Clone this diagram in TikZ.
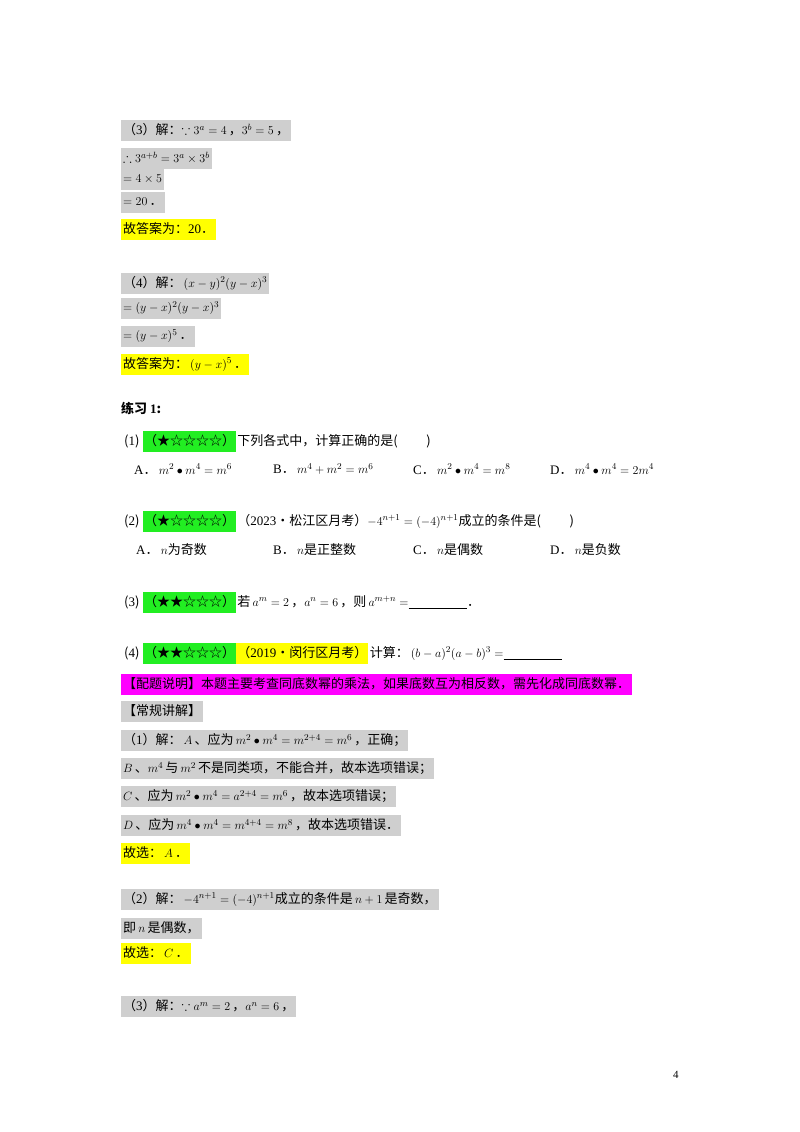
\documentclass[tikz,border=0pt]{standalone}
\usepackage{fontspec}
\usepackage{amsmath,amssymb}
\setmainfont{Noto Sans CJK SC}
\newfontfamily\ser{Liberation Serif}
\usetikzlibrary{positioning}
\definecolor{hlgray}{HTML}{CFCFCF}
\definecolor{hlgreen}{HTML}{22EE22}
\definecolor{hlyellow}{HTML}{FFFF00}
\definecolor{hlmag}{HTML}{FF00FF}
\newcommand{\sm}[1]{{\ser #1}}
\begin{document}
\begin{tikzpicture}[x=1pt,y=-1pt,font=\fontsize{13}{15}\selectfont,
    box/.style={anchor=west,fill=#1,inner xsep=2pt,inner ysep=0pt,minimum height=21pt},
    txt/.style={anchor=west,inner sep=1pt},
    sq/.style={right=0pt of #1,inner xsep=1pt,inner ysep=0pt,minimum height=21pt}]
\useasboundingbox (0,0) rectangle (800,1132);
% worked answers (3) and (4)
\node[box=hlgray] (s3a) at (121,130) {（\sm{3}）解：$\because 3^a=4$\,，$3^b=5$\,，};
\node[box=hlgray] (s3b) at (121,158) {$\therefore 3^{a+b}=3^a\times 3^b$};
\node[box=hlgray] (s3c) at (121,179) {$=4\times 5$};
\node[box=hlgray] (s3d) at (121,202) {$=20$\,．};
\node[box=hlyellow] (s3e) at (121,229) {故答案为：\sm{20}．};
\node[box=hlgray] (s4a) at (121,283) {（\sm{4}）解：$\,(x-y)^2(y-x)^3$};
\node[box=hlgray] (s4b) at (121,308) {$=(y-x)^2(y-x)^3$};
\node[box=hlgray] (s4c) at (121,336) {$=(y-x)^5$\,．};
\node[box=hlyellow] (s4d) at (121,364) {故答案为：$\,(y-x)^5$\,．};
% exercise 1
\node[txt,font=\fontsize{13}{15}\selectfont\bfseries] (ex) at (120,408) {练习 \sm{\textbf{1}}:};
\node[txt] (q1) at (123,441) {(\sm{1})\,};
\node[box=hlgreen,sq=q1] (q1s) {（★☆☆☆☆）};
\node[txt,right=0pt of q1s] (q1t) {下列各式中，计算正确的是(\hspace{2.2em})};
\node[txt] (o1a) at (133,469) {\sm{A}．\,$m^2\bullet m^4=m^6$};
\node[txt] (o1b) at (272,469) {\sm{B}．\,$m^4+m^2=m^6$};
\node[txt] (o1c) at (412,469) {\sm{C}．\,$m^2\bullet m^4=m^8$};
\node[txt] (o1d) at (549,469) {\sm{D}．\,$m^4\bullet m^4=2m^4$};
\node[txt] (q2) at (123,521) {(\sm{2})\,};
\node[box=hlgreen,sq=q2] (q2s) {（★☆☆☆☆）};
\node[txt,right=0pt of q2s] (q2t) {（\sm{2023}•松江区月考）$-4^{n+1}=(-4)^{n+1}$成立的条件是(\hspace{2.2em})};
\node[txt] (o2a) at (135,550) {\sm{A}．\,$n$为奇数};
\node[txt] (o2b) at (272,550) {\sm{B}．\,$n$是正整数};
\node[txt] (o2c) at (412,550) {\sm{C}．\,$n$是偶数};
\node[txt] (o2d) at (549,550) {\sm{D}．\,$n$是负数};
\node[txt] (q3) at (123,602) {(\sm{3})\,};
\node[box=hlgreen,sq=q3] (q3s) {（★★☆☆☆）};
\node[txt,right=0pt of q3s] (q3t) {若\,$a^m=2$\,，$a^n=6$\,，则\,$a^{m+n}=$\underline{\hspace{4.5em}}．};
\node[txt] (q4) at (123,653) {(\sm{4})\,};
\node[box=hlgreen,sq=q4] (q4s) {（★★☆☆☆）};
\node[box=hlyellow,sq=q4s] (q4y) {（\sm{2019}•闵行区月考）};
\node[txt,right=0pt of q4y] (q4t) {计算：$\,(b-a)^2(a-b)^3=$\underline{\hspace{4.5em}}};
% explanation
\node[box=hlmag] (note) at (121,684) {【配题说明】本题主要考查同底数幂的乘法，如果底数互为相反数，需先化成同底数幂．};
\node[box=hlgray] (head) at (121,711) {【常规讲解】};
\node[box=hlgray] (a1a) at (121,740) {（\sm{1}）解：$\,A$\,、应为\,$m^2\bullet m^4=m^{2+4}=m^6$\,，正确；};
\node[box=hlgray] (a1b) at (121,768) {$B$\,、$m^4$\,与\,$m^2$\,不是同类项，不能合并，故本选项错误；};
\node[box=hlgray] (a1c) at (121,796) {$C$\,、应为\,$m^2\bullet m^4=a^{2+4}=m^6$\,，故本选项错误；};
\node[box=hlgray] (a1d) at (121,825) {$D$\,、应为\,$m^4\bullet m^4=m^{4+4}=m^8$\,，故本选项错误．};
\node[box=hlyellow] (a1e) at (121,853) {故选：$\,A$\,．};
\node[box=hlgray] (a2a) at (121,899) {（\sm{2}）解：$\,-4^{n+1}=(-4)^{n+1}$成立的条件是\,$n+1$\,是奇数，};
\node[box=hlgray] (a2b) at (121,928) {即\,$n$\,是偶数，};
\node[box=hlyellow] (a2c) at (121,953) {故选：$\,C$\,．};
\node[box=hlgray] (a3a) at (121,1006) {（\sm{3}）解：$\because a^m=2$\,，$a^n=6$\,，};
\node[txt,font=\fontsize{11}{13}\selectfont\ser] (pg) at (672,1075) {4};
\end{tikzpicture}
\end{document}
